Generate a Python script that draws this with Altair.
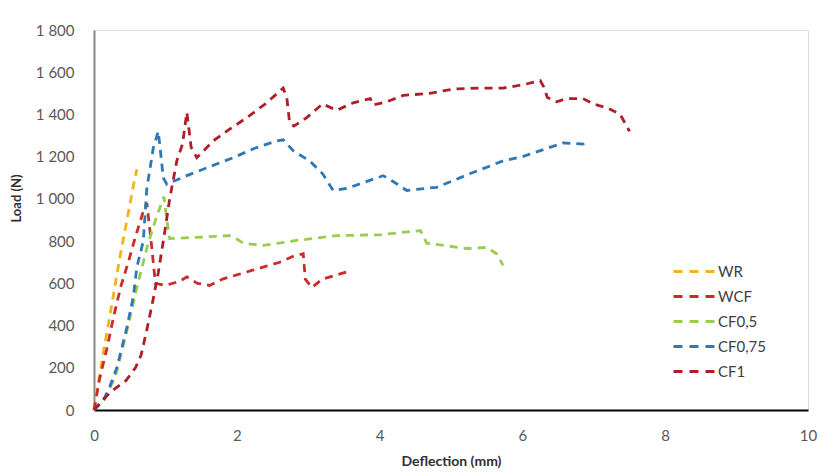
import altair as alt
import pandas as pd

series_names = ["WR", "WCF", "\u00a0CF0,5", "CF0,75", "CF1"]
series_colors = ["#F5B21A", "#CC2B2B", "#9ACD4E", "#2E78B8", "#B01E2A"]

wr_x = [0, 0.05, 0.15, 0.25, 0.35, 0.45, 0.55, 0.6]
wr_y = [0, 110, 310, 500, 700, 880, 1060, 1140]

wcf_x = [0, 0.08, 0.18, 0.28, 0.38, 0.48, 0.58, 0.68, 0.74, 0.8, 0.86, 1.0, 1.2, 1.3, 1.45,
         1.62, 1.8, 2.0, 2.2, 2.4, 2.6, 2.8, 2.93, 2.96, 3.05, 3.2, 3.4, 3.6]
wcf_y = [0, 150, 290, 450, 590, 700, 820, 930, 980, 800, 600, 590, 610, 630, 600,
         590, 620, 640, 660, 680, 700, 730, 740, 620, 580, 620, 640, 660]

cf05_x = [0, 0.15, 0.3, 0.45, 0.6, 0.75, 0.88, 0.98, 1.02, 1.06, 1.44, 1.9, 2.0, 2.09, 2.37,
          2.84, 3.4, 4.0, 4.57, 4.62, 4.66, 5.22, 5.5, 5.64, 5.73]
cf05_y = [0, 50, 160, 360, 580, 780, 920, 1010, 900, 812, 818, 826, 810, 790, 780,
          803, 826, 830, 850, 820, 790, 765, 770, 740, 685]

cf075_x = [0, 0.13, 0.22, 0.32, 0.46, 0.55, 0.6, 0.69, 0.74, 0.83, 0.9, 0.93, 0.97, 1.02, 1.3,
           1.6, 1.95, 2.25, 2.56, 2.65, 2.79, 3.02, 3.2, 3.35, 3.55, 3.73, 4.05, 4.2, 4.38,
           4.8, 5.27, 5.73, 6.0, 6.35, 6.57, 6.85, 6.88]
cf075_y = [0, 45, 110, 200, 390, 535, 675, 800, 1050, 1240, 1320, 1230, 1100, 1070, 1110,
           1150, 1195, 1240, 1275, 1280, 1228, 1180, 1120, 1040, 1050, 1072, 1110, 1080, 1040,
           1055, 1120, 1180, 1200, 1240, 1265, 1260, 1228]

cf1_x = [0, 0.1, 0.25, 0.45, 0.58, 0.66, 0.74, 0.82, 0.9, 0.98, 1.06, 1.16, 1.24, 1.3, 1.33,
         1.36, 1.44, 1.67, 1.9, 2.14, 2.4, 2.65, 2.7, 2.74, 2.8, 2.98, 3.2, 3.4, 3.63, 3.87,
         3.91, 4.1, 4.33, 4.7, 5.03, 5.4, 5.73, 6.0, 6.25, 6.3, 6.35, 6.48, 6.62, 6.85, 6.99,
         7.2, 7.37, 7.5]
cf1_y = [0, 40, 90, 140, 200, 260, 380, 510, 650, 820, 1000, 1180, 1260, 1410, 1330,
         1245, 1195, 1275, 1330, 1385, 1450, 1525, 1480, 1360, 1345, 1385, 1450, 1420, 1455, 1475,
         1445, 1460, 1490, 1500, 1520, 1525, 1525, 1540, 1560, 1530, 1480, 1460, 1475, 1475, 1450,
         1430, 1400, 1320]

y_ticks = [0, 200, 400, 600, 800, 1000, 1200, 1400, 1600, 1800]
x_ticks = [0, 2, 4, 6, 8, 10]

rows = []
for name, xs, ys in zip(series_names,
                        [wr_x, wcf_x, cf05_x, cf075_x, cf1_x],
                        [wr_y, wcf_y, cf05_y, cf075_y, cf1_y]):
    for i, (xv, yv) in enumerate(zip(xs, ys)):
        rows.append({"series": name, "x": xv, "y": yv, "i": i})
df = pd.DataFrame(rows)

FONT = "Lato"

chart = alt.Chart(df).mark_line(strokeDash=[8, 6], strokeWidth=2.8).encode(
    x=alt.X("x:Q", scale=alt.Scale(domain=[0, 10], nice=False),
            axis=alt.Axis(values=x_ticks, title="Deflection (mm)", grid=False, ticks=False,
                          domainColor="#000000", domainWidth=2, labelPadding=18,
                          labelFlush=False, labelOverlap=False,
                          labelFontSize=15, labelColor="#595959", labelFont=FONT,
                          titleFont=FONT, titleFontSize=14, titleFontWeight="bold",
                          titleColor="#303030", titlePadding=11)),
    y=alt.Y("y:Q", scale=alt.Scale(domain=[0, 1800], nice=False),
            axis=alt.Axis(values=y_ticks, title="Load (N)", grid=False, ticks=False,
                          domainColor="#888888", domainWidth=2, labelPadding=20,
                          labelFlush=False, labelOverlap=False,
                          labelFontSize=15, labelColor="#595959", labelFont=FONT,
                          labelExpr="replace(format(datum.value, ','), ',', ' ')",
                          titleFont=FONT, titleFontSize=13, titleFontWeight="bold",
                          titleColor="#303030", titlePadding=12, titleY=168)),
    color=alt.Color("series:N", scale=alt.Scale(domain=series_names, range=series_colors),
                    legend=alt.Legend(title=None, orient="none", legendX=590, legendY=230,
                                      symbolType="M-2.2,0H2.2", symbolSize=400,
                                      symbolStrokeWidth=3, symbolDash=[9, 7],
                                      rowPadding=5, labelFontSize=15, labelFont=FONT,
                                      labelColor="#404040", labelOffset=11)),
    order="i:Q",
).properties(
    width=714, height=380,
    padding={"left": 94, "top": 30, "right": 15, "bottom": 63},
    autosize=alt.AutoSizeParams(type="none"),
).configure_view(stroke=None).configure(background="#ffffff")

chart.save("out.html", embed_options={"renderer": "svg", "actions": False})
